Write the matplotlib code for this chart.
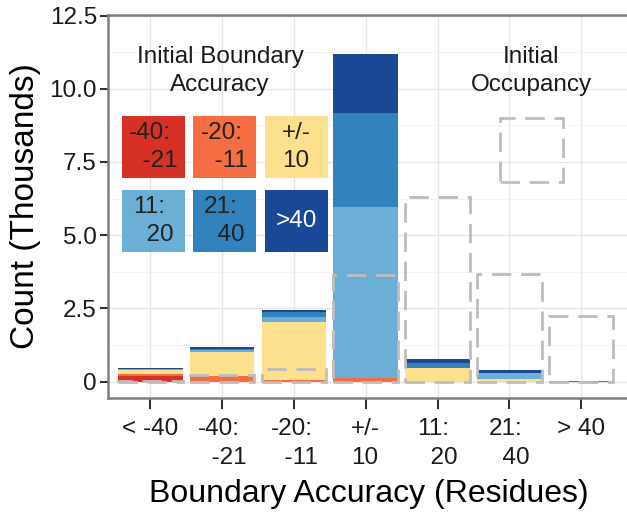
import numpy as np
import matplotlib
matplotlib.use('Agg')
import matplotlib.pyplot as plt
from matplotlib.patches import Rectangle

plt.rcParams['font.family'] = ['Liberation Sans', 'DejaVu Sans']

# final boundary accuracy (x axis)
categories = ['< -40', '-40:\n  -21', '-20:\n  -11', '+/-\n10', '11:\n  20', '21:\n  40', '> 40']
# initial boundary accuracy (stack groups), counts in thousands
groups = ['-40:\n  -21', '-20:\n  -11', '+/-\n10', '11:\n  20', '21:\n  40', '>40']
grp_colors = ['#d73027', '#f46d43', '#fce08e', '#6baed6', '#3182bd', '#1a4896']
grp_text = ['#222222', '#222222', '#222222', '#222222', '#222222', 'white']

v_m40_m21 = [0.20, 0.00, 0.00, 0.00, 0.00, 0.00, 0.00]
v_m20_m11 = [0.07, 0.20, 0.04, 0.14, 0.00, 0.00, 0.00]
v_pm10    = [0.11, 0.82, 1.99, 0.00, 0.47, 0.08, 0.00]
v_11_20   = [0.04, 0.06, 0.18, 5.82, 0.00, 0.23, 0.00]
v_21_40   = [0.01, 0.05, 0.15, 3.22, 0.17, 0.00, 0.03]
v_gt40    = [0.04, 0.06, 0.08, 2.01, 0.14, 0.09, 0.00]
stack = [v_m40_m21, v_m20_m11, v_pm10, v_11_20, v_21_40, v_gt40]

# initial occupancy (dashed outline)
occupancy = [0.02, 0.23, 0.42, 3.64, 6.30, 3.67, 2.24]

fig = plt.figure(figsize=(6.27, 5.12), dpi=100)
ax = fig.add_axes([108 / 627, 1 - 398 / 512, 522 / 627, 383 / 512])

x = np.arange(len(categories))
width = 0.9
bottom = np.zeros(len(categories))
for vals, col in zip(stack, grp_colors):
    ax.bar(x, vals, width, bottom=bottom, color=col, linewidth=0, zorder=2)
    bottom = bottom + np.array(vals)

ax.bar(x, occupancy, width, fill=False, edgecolor='#bdbdbd', linewidth=2,
       linestyle=(0, (7, 3.5)), zorder=3)

ax.set_xlim(-0.59, 6.68)
ax.set_ylim(-0.56, 12.52)
ax.set_xticks(x)
ax.set_xticklabels(categories, multialignment='left', linespacing=1.4)
ax.set_yticks([0, 2.5, 5, 7.5, 10, 12.5])
ax.set_yticklabels(['0', '2.5', '5.0', '7.5', '10.0', '12.5'])
ax.set_yticks([1.25, 3.75, 6.25, 8.75, 11.25], minor=True)
ax.tick_params(axis='both', which='major', labelsize=17.5, width=1.5,
               color='#333333', labelcolor='#1a1a1a')
ax.tick_params(axis='y', which='major', length=6, pad=2)
ax.tick_params(axis='x', which='major', length=8, pad=6.5)
ax.tick_params(axis='y', which='minor', length=0)
ax.grid(True, which='major', color='#e6e6e6', linewidth=1.0)
ax.grid(True, which='minor', axis='y', color='#f2f2f2', linewidth=0.6)
ax.set_axisbelow(True)

for s in ['left', 'top', 'bottom']:
    ax.spines[s].set_color('#7f7f7f')
    ax.spines[s].set_linewidth(1.8)
ax.spines['right'].set_visible(False)

ax.set_ylabel('Count (Thousands)', fontsize=24, labelpad=6)
ax.set_xlabel('Boundary Accuracy (Residues)', fontsize=23, labelpad=7)

# legend: initial boundary accuracy
ax.text(0.2146, 0.92, 'Initial Boundary\nAccuracy', transform=ax.transAxes,
        ha='center', va='top', fontsize=17.5, color='#1a1a1a', linespacing=1.36)
key_w, key_h = 0.1207, 0.1619
col_x = [0.0268, 0.1628, 0.3008]
row_y = [0.5744, 0.3812]
for i, (lab, col, tc) in enumerate(zip(groups, grp_colors, grp_text)):
    kx = col_x[i % 3]
    ky = row_y[i // 3]
    ax.add_patch(Rectangle((kx, ky), key_w, key_h, transform=ax.transAxes,
                           facecolor=col, edgecolor='none', zorder=4))
    ax.text(kx + key_w / 2, ky + key_h / 2, lab, transform=ax.transAxes,
            ha='center', va='center', multialignment='left', fontsize=17.5,
            color=tc, linespacing=1.3, zorder=5)

# legend: initial occupancy
ax.text(0.8103, 0.92, 'Initial\nOccupancy', transform=ax.transAxes,
        ha='center', va='top', fontsize=17.5, color='#1a1a1a', linespacing=1.36)
ax.add_patch(Rectangle((0.751, 0.564), key_w, 0.167, transform=ax.transAxes,
                       fill=False, edgecolor='#bdbdbd', linewidth=2,
                       linestyle=(0, (7, 3.5)), zorder=4))

fig.savefig('out.png', dpi=100)
